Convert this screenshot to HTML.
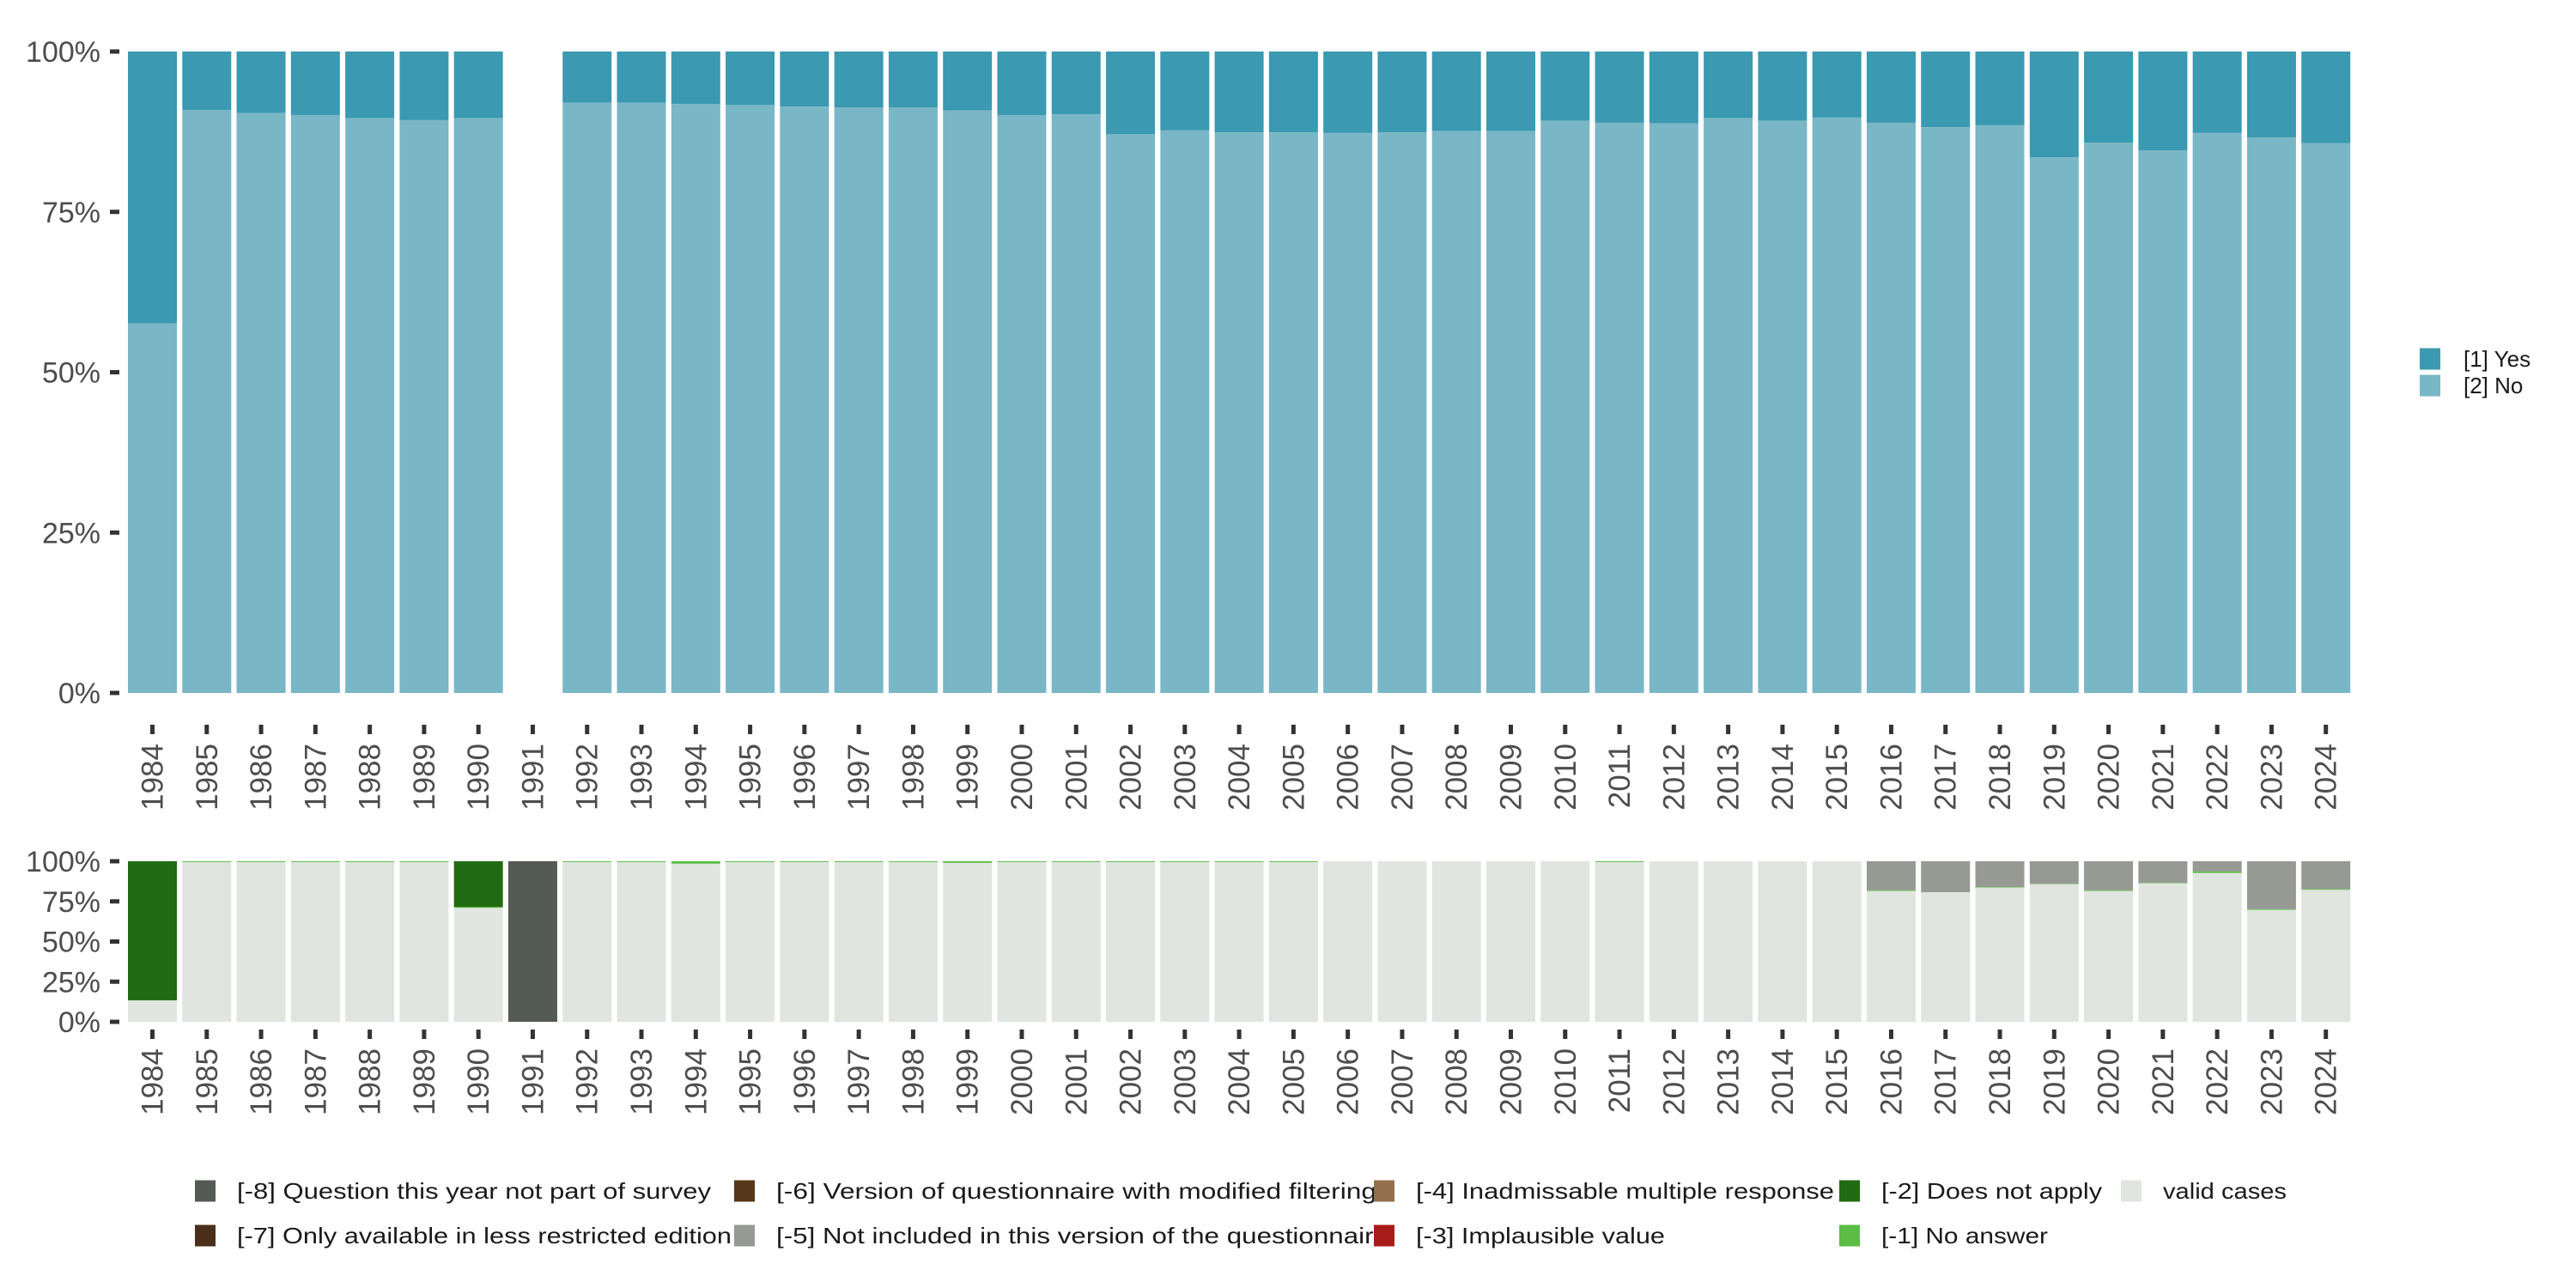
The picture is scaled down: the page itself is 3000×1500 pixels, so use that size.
<!DOCTYPE html>
<html><head><meta charset="utf-8">
<style>
html,body{margin:0;padding:0;background:#fff;}
svg{display:block;font-family:"Liberation Sans",sans-serif;}
</style></head>
<body>
<svg id="chart" width="3000" height="1500" viewBox="0 0 3000 1500" xmlns="http://www.w3.org/2000/svg"></svg>
<script>
const years = [1984,1985,1986,1987,1988,1989,1990,1991,1992,1993,1994,1995,1996,1997,1998,1999,2000,2001,2002,2003,2004,2005,2006,2007,2008,2009,2010,2011,2012,2013,2014,2015,2016,2017,2018,2019,2020,2021,2022,2023,2024];
// top chart: share of "No" (%); Yes = 100 - No; null = no data
const noShare = [57.6,90.9,90.4,90.1,89.6,89.3,89.6,null,92.0,92.0,91.8,91.7,91.4,91.3,91.3,90.8,90.1,90.2,87.1,87.7,87.4,87.4,87.3,87.4,87.6,87.6,89.2,88.9,88.8,89.6,89.2,89.7,88.9,88.2,88.5,83.5,85.8,84.6,87.3,86.6,85.7];
// bottom chart shares (%)
const validShare = [13.4,99.5,99.5,99.5,99.5,99.5,71.0,0,99.5,99.5,98.5,99.5,99.5,99.5,99.5,99.0,99.5,99.5,99.5,99.5,99.5,99.5,100,100,100,100,100,99.5,100,100,100,100,81.5,80.7,83.6,85.7,81.5,86.3,92.7,69.7,82.2];
const noAnswerShare = [0,0.5,0.5,0.5,0.5,0.5,0.5,0,0.5,0.5,1.5,0.5,0.5,0.5,0.5,1.0,0.5,0.5,0.5,0.5,0.5,0.5,0,0,0,0,0,0.5,0,0,0,0,0.5,0,0.3,0.3,0.5,0.3,1.0,0.5,0.5];
const notApplyShare = [86.6,0,0,0,0,0,28.5,0,0,0,0,0,0,0,0,0,0,0,0,0,0,0,0,0,0,0,0,0,0,0,0,0,0,0,0,0,0,0,0,0,0];
const notIncludedShare = [0,0,0,0,0,0,0,0,0,0,0,0,0,0,0,0,0,0,0,0,0,0,0,0,0,0,0,0,0,0,0,0,18.0,19.3,16.1,14.0,18.0,13.4,6.3,29.8,17.3];
const notPartShare = [0,0,0,0,0,0,0,100,0,0,0,0,0,0,0,0,0,0,0,0,0,0,0,0,0,0,0,0,0,0,0,0,0,0,0,0,0,0,0,0,0];
const yTicks = [0,25,50,75,100];
const yTickLabels = ["0%","25%","50%","75%","100%"];

const NS="http://www.w3.org/2000/svg";
const svg=document.getElementById('chart');
function el(tag,attrs,parent){const e=document.createElementNS(NS,tag);for(const k in attrs)e.setAttribute(k,attrs[k]);(parent||svg).appendChild(e);return e;}

const X0=149, PITCH=63.28, BW=57;
function xLeft(i){return X0+i*PITCH;}
function xCenter(i){return X0+i*PITCH+BW/2;}
function makeY(top,bottom){return v=>bottom-(bottom-top)*v/100;}
const yTop=makeY(60,807);
const yBot=makeY(1003,1190);

function axes(g,yf,tickY0,labelY){
  yTicks.forEach((t,k)=>{
    const y=yf(t);
    const tk=el('rect',{x:128,y:y-2.5,width:11,height:5,fill:'#333'},g);
    
    
    const tx=el('text',{x:117,y:y+12,'text-anchor':'end','font-size':34,fill:'#4d4d4d'},g);
    tx.textContent=yTickLabels[k];
    
    
  });
  years.forEach((yr,i)=>{
    const cx=xCenter(i);
    const tk=el('rect',{x:cx-2.5,y:tickY0,width:5,height:11,fill:'#333'},g);
    
    
    const tx=el('text',{x:0,y:0,'text-anchor':'end','font-size':35,fill:'#4d4d4d',transform:`translate(${cx+12},${labelY}) rotate(-90)`},g);
    tx.textContent=yr;
    
    
  });
}

// top chart
const gTop=el('g',{});


years.forEach((yr,i)=>{
  const v=noShare[i]; if(v===null) return;
  const x=xLeft(i);
  const r1=el('rect',{x:x,y:yTop(100),width:BW,height:yTop(v)-yTop(100),fill:'#3b99b1'},gTop);
  
  
  const r2=el('rect',{x:x,y:yTop(v),width:BW,height:yTop(0)-yTop(v),fill:'#79b6c6'},gTop);
  
  
});
axes(gTop,yTop,844,866);

// bottom chart
const gBot=el('g',{});


const series=[[validShare,'#e0e5e0','valid'],[noAnswerShare,'#5bbd45','no-answer'],[notApplyShare,'#216b12','does-not-apply'],[notIncludedShare,'#969a93','not-included'],[notPartShare,'#545b54','not-part-of-survey']];
years.forEach((yr,i)=>{
  let cum=0;
  series.forEach(s=>{
    const v=s[0][i]; if(!v) return;
    const top=Math.min(100,cum+v);
    const r=el('rect',{x:xLeft(i),y:yBot(top),width:BW,height:yBot(cum)-yBot(top),fill:s[1]},gBot);
    
    
    cum=top;
  });
});
axes(gBot,yBot,1199,1221);

// right legend
const lg=el('g',{});


[['[1] Yes','#3b99b1',418,86],['[2] No','#79b6c6',449,70]].forEach(d=>{
  const r=el('rect',{x:2818,y:d[2]-12.5,width:24,height:25,fill:d[1]},lg);
  
  
  const t=el('text',{x:2869,y:d[2]+9,'font-size':26,fill:'#1a1a1a'},lg);
  t.textContent=d[0];
  
  
});

// bottom legend
const bl=el('g',{});


const legItems=[
 ['[-8] Question this year not part of survey','#545b54',227,1387,552],
 ['[-7] Only available in less restricted edition','#4a2e1a',227,1439,576],
 ['[-6] Version of questionnaire with modified filtering','#56381a',855,1387,699],
 ['[-5] Not included in this version of the questionnaire','#969a93',855,1439,713],
 ['[-4] Inadmissable multiple response','#94704f',1600,1387,487],
 ['[-3] Implausible value','#a81c1a',1600,1439,290],
 ['[-2] Does not apply','#216b12',2142,1387,257],
 ['[-1] No answer','#5bbd45',2142,1439,194],
 ['valid cases','#e0e5e0',2470,1387,144]
];
legItems.forEach(d=>{
  const r=el('rect',{x:d[2],y:d[3]-12.5,width:24,height:25,fill:d[1]},bl);
  
  
  const t=el('text',{x:d[2]+49,y:d[3]+9,'font-size':26,fill:'#1a1a1a',textLength:d[4],lengthAdjust:'spacingAndGlyphs'},bl);
  t.textContent=d[0];
  
  
});
</script>
</body></html>
